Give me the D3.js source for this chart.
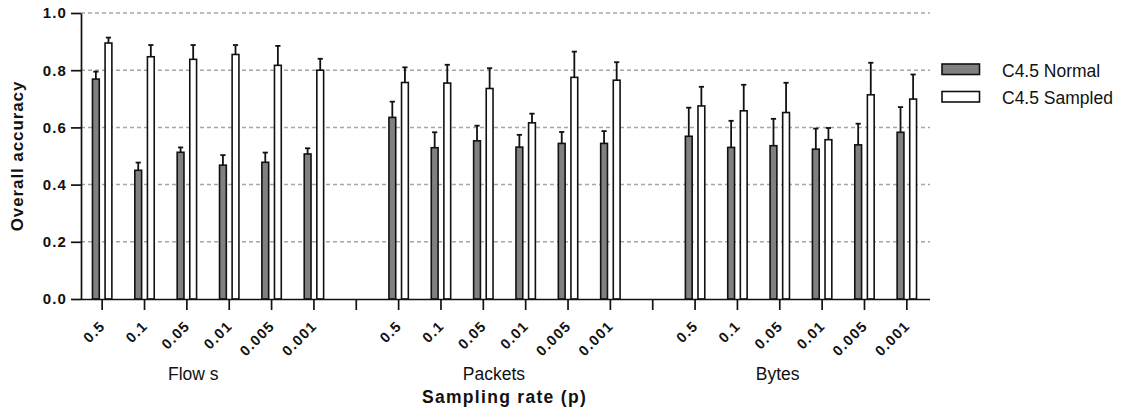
<!DOCTYPE html>
<html>
<head>
<meta charset="utf-8">
<script src="https://cdn.jsdelivr.net/npm/d3@7"></script>
<style>
  html, body { margin: 0; padding: 0; background: #fff; }
  svg { display: block; font-family: "Liberation Sans", Arial, sans-serif; }
</style>
</head>
<body>
<svg id="chart" width="1125" height="414"></svg>
<script>
// Feature groups and sampling rates on the x axis
const groups = ["Flow s", "Packets", "Bytes"];
const rates = ["0.5", "0.1", "0.05", "0.01", "0.005", "0.001"];
const seriesNames = ["C4.5 Normal", "C4.5 Sampled"];
const yTicks = [0.0, 0.2, 0.4, 0.6, 0.8, 1.0];

// Mean overall accuracy per group (rates in order above)
const normalMean = [
  [0.769, 0.450, 0.513, 0.468, 0.478, 0.507],
  [0.635, 0.529, 0.553, 0.531, 0.544, 0.544],
  [0.569, 0.530, 0.536, 0.524, 0.539, 0.583]
];
const normalErr = [
  [0.026, 0.027, 0.017, 0.035, 0.034, 0.020],
  [0.055, 0.054, 0.053, 0.043, 0.040, 0.043],
  [0.100, 0.093, 0.094, 0.072, 0.074, 0.088]
];
const sampledMean = [
  [0.895, 0.847, 0.838, 0.855, 0.817, 0.800],
  [0.757, 0.755, 0.736, 0.616, 0.775, 0.765],
  [0.675, 0.658, 0.652, 0.557, 0.714, 0.699]
];
const sampledErr = [
  [0.019, 0.041, 0.050, 0.033, 0.068, 0.040],
  [0.053, 0.064, 0.071, 0.032, 0.090, 0.063],
  [0.067, 0.091, 0.104, 0.041, 0.112, 0.086]
];

const fills = ["#808080", "#ffffff"];

// Slot keys: six rates per group, with an empty slot between groups
const slots = [];
groups.forEach((g, gi) => {
  rates.forEach(r => slots.push(g + "|" + r));
  if (gi < groups.length - 1) slots.push("gap" + gi);
});

const rows = [];
groups.forEach((g, gi) => {
  rates.forEach((r, ri) => {
    rows.push({ slot: g + "|" + r, series: 0, mean: normalMean[gi][ri], err: normalErr[gi][ri] });
    rows.push({ slot: g + "|" + r, series: 1, mean: sampledMean[gi][ri], err: sampledErr[gi][ri] });
  });
});

const svg = d3.select("#chart");
const plotLeft = 81, plotRight = 928, plotTop = 13, plotBottom = 299;

const x = d3.scaleBand().domain(slots).range([plotLeft, plotRight]).padding(0);
const y = d3.scaleLinear().domain([0, 1]).range([plotBottom, plotTop]);
const xOff = d3.scalePoint().domain([0, 1]).range([-6.3, 6.3]);
const barW = 6.8;
const cx = d => x(d.slot) + x.bandwidth() / 2 + xOff(d.series);

// Dashed horizontal grid
svg.append("g")
  .selectAll("line")
  .data(yTicks.filter(t => t > 0))
  .join("line")
  .attr("x1", plotLeft).attr("x2", 930)
  .attr("y1", d => y(d)).attr("y2", d => y(d))
  .attr("stroke", "#a6a6a6")
  .attr("stroke-width", 1.5)
  .attr("stroke-dasharray", "4,3");

// Error bars (upper side only)
const eb = svg.append("g").attr("stroke", "#111").attr("stroke-width", 1.8);
eb.selectAll("line.v").data(rows).join("line").attr("class", "v")
  .attr("x1", cx).attr("x2", cx)
  .attr("y1", d => y(d.mean)).attr("y2", d => y(d.mean + d.err));
eb.selectAll("line.c").data(rows).join("line").attr("class", "c")
  .attr("x1", d => cx(d) - 2.6).attr("x2", d => cx(d) + 2.6)
  .attr("y1", d => y(d.mean + d.err)).attr("y2", d => y(d.mean + d.err));

// Bars
svg.append("g")
  .selectAll("rect")
  .data(rows)
  .join("rect")
  .attr("x", d => cx(d) - barW / 2)
  .attr("width", barW)
  .attr("y", d => y(d.mean))
  .attr("height", d => y(0) - y(d.mean))
  .attr("fill", d => fills[d.series])
  .attr("stroke", "#111")
  .attr("stroke-width", 1.6);

// Y axis
const yAxis = svg.append("g")
  .attr("transform", `translate(${plotLeft},0)`)
  .call(d3.axisLeft(y).tickValues(yTicks).tickFormat(d3.format(".1f")).tickSize(10).tickSizeOuter(0).tickPadding(5));
yAxis.select(".domain").attr("stroke", "#111").attr("stroke-width", 1.7);
yAxis.selectAll(".tick line").attr("stroke", "#111").attr("stroke-width", 1.7);
yAxis.selectAll(".tick text")
  .attr("font-size", 15).attr("font-weight", "bold").attr("fill", "#111")
  .attr("letter-spacing", "1.1px").attr("dx", "1px")
  .attr("font-family", "Liberation Sans, Arial, sans-serif");

// X axis
const xAxis = svg.append("g")
  .attr("transform", `translate(0,${plotBottom})`)
  .call(d3.axisBottom(x).tickSize(11).tickSizeOuter(0).tickFormat(""));
xAxis.select(".domain").attr("d", `M${plotLeft},0.5H930`).attr("stroke", "#111").attr("stroke-width", 1.7);
xAxis.selectAll(".tick line").attr("stroke", "#111").attr("stroke-width", 1.7);

// Rotated rate labels
svg.append("g")
  .selectAll("text")
  .data(slots.filter(s => s.indexOf("|") > 0))
  .join("text")
  .attr("transform", s => `translate(${x(s) + x.bandwidth() / 2 + 4},${plotBottom + 28}) rotate(-45)`)
  .attr("text-anchor", "end")
  .attr("font-size", 14.5)
  .attr("font-weight", "bold")
  .attr("letter-spacing", "1.2px")
  .attr("fill", "#111")
  .text(s => s.split("|")[1]);

// Group labels under each block of rates
const groupShift = [-0.35, -0.25, -0.55];
svg.append("g")
  .selectAll("text")
  .data(groups)
  .join("text")
  .attr("x", (g, i) => {
    const first = x(g + "|" + rates[0]);
    const last = x(g + "|" + rates[rates.length - 1]) + x.bandwidth();
    return (first + last) / 2 + groupShift[i] * x.bandwidth();
  })
  .attr("y", 380)
  .attr("text-anchor", "middle")
  .attr("font-size", 17.5)
  .attr("fill", "#111")
  .text(g => g);

// Axis titles
svg.append("text")
  .attr("x", (plotLeft + plotRight) / 2)
  .attr("y", 403)
  .attr("text-anchor", "middle")
  .attr("font-size", 17.5)
  .attr("font-weight", "bold")
  .attr("letter-spacing", "1.3px")
  .attr("fill", "#111")
  .text("Sampling rate (p)");

svg.append("text")
  .attr("transform", `translate(23,${(plotTop + plotBottom) / 2}) rotate(-90)`)
  .attr("text-anchor", "middle")
  .attr("font-size", 17)
  .attr("font-weight", "bold")
  .attr("letter-spacing", "0.9px")
  .attr("fill", "#111")
  .text("Overall accuracy");

// Legend
const legend = svg.append("g").attr("transform", "translate(942,64)");
const li = legend.selectAll("g").data(seriesNames).join("g")
  .attr("transform", (d, i) => `translate(0,${i * 27.5})`);
li.append("rect")
  .attr("width", 37.5).attr("height", 10.5)
  .attr("fill", (d, i) => fills[i])
  .attr("stroke", "#111").attr("stroke-width", 1.6);
li.append("text")
  .attr("x", 60).attr("y", 12.8)
  .attr("font-size", 17.5)
  .attr("fill", "#111")
  .text(d => d);
</script>
</body>
</html>
